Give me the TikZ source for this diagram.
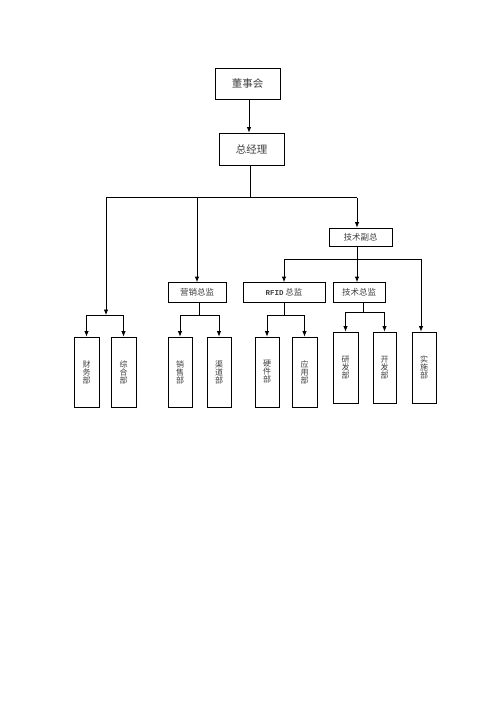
\documentclass[tikz,border=0pt]{standalone}
\usepackage{fontspec}
\setmainfont{Noto Sans CJK SC}
\newfontfamily\monofont{Liberation Mono}
\usetikzlibrary{arrows.meta}
\begin{document}
\begin{tikzpicture}[x=1pt,y=-1pt,
  box/.style={draw,line width=0.8pt,inner sep=0pt,text=black!75,font=\fontsize{8.5}{9}\selectfont},
  bigbox/.style={box,font=\fontsize{10.5}{11}\selectfont,minimum width=65pt,minimum height=31pt},
  midbox/.style={box,minimum height=20pt},
  dept/.style={box,minimum width=25pt,align=center,font=\fontsize{8}{8}\selectfont},
  ln/.style={line width=0.8pt},
  arr/.style={ln,-{Latex[length=5.5pt,width=4.5pt]}}]
\useasboundingbox (0,0) rectangle (496,702);
% top
\node[bigbox] (dsh) at (247.5,83.5) {董事会};
\node[bigbox,minimum height=32pt] (zjl) at (251.5,149) {总经理};
% second level
\node[midbox,minimum width=63pt,minimum height=18pt] (jsfz) at (360.5,237) {技术副总};
\node[midbox,minimum width=58pt] (yxzj) at (197,292.5) {营销总监};
\node[midbox,minimum width=82pt] (rfid) at (284,292.5) {{\monofont\bfseries\fontsize{7.5}{8}\selectfont RFID} 总监};
\node[midbox,minimum width=52pt] (jszj) at (359,292.5) {技术总监};
% departments
\node[dept,minimum height=70pt] (cw) at (86.5,372) {财\\务\\部};
\node[dept,minimum height=70pt] (zh) at (123.5,372) {综\\合\\部};
\node[dept,minimum height=70pt,minimum width=24pt] (xs) at (180,372) {销\\售\\部};
\node[dept,minimum height=70pt,minimum width=24pt] (qd) at (219,372) {渠\\道\\部};
\node[dept,minimum height=70pt,minimum width=24pt] (yj) at (267,372) {硬\\件\\部};
\node[dept,minimum height=70pt] (yy) at (304.5,372) {应\\用\\部};
\node[dept,minimum height=71pt] (yf) at (345.5,367.5) {研\\发\\部};
\node[dept,minimum height=71pt,minimum width=23pt] (kf) at (384.5,367.5) {开\\发\\部};
\node[dept,minimum height=71pt,minimum width=24pt] (ss) at (424,367.5) {实\\施\\部};
% bar coordinates
\coordinate (t0) at (250,197.5);
\coordinate (tl) at (106,197.5);
\coordinate (tm) at (197,197.5);
\coordinate (tr) at (357,197.5);
\coordinate (cl) at (106,315);
\coordinate (f0) at (357,259);
\coordinate (fr) at (421,259);
% connectors
\draw[arr] (dsh.south -| 249,0) -- (zjl.north -| 249,0);
\draw[ln] (zjl.south -| t0) -- (t0);
\draw[ln] (tl) -- (tr);
\draw[arr] (tl) -- (cl);
\draw[arr] (tm) -- (yxzj.north -| tm);
\draw[arr] (tr) -- (jsfz.north -| tr);
% finance / general
\draw[ln] (cl -| cw) -- (cl -| zh);
\draw[arr] (cl -| cw) -- (cw.north);
\draw[arr] (cl -| zh) -- (zh.north);
% marketing
\draw[ln] (199,303) -- (199,315);
\draw[ln] (xs.north |- 0,315) -- (qd.north |- 0,315);
\draw[arr] (xs.north |- 0,315) -- (xs.north);
\draw[arr] (qd.north |- 0,315) -- (qd.north);
% RFID
\draw[ln] (rfid.south) -- (284,315.5);
\draw[ln] (yj.north |- 0,315.5) -- (yy.north |- 0,315.5);
\draw[arr] (yj.north |- 0,315.5) -- (yj.north);
\draw[arr] (yy.north |- 0,315.5) -- (yy.north);
% tech director
\draw[ln] (363,303) -- (363,312);
\draw[ln] (yf.north |- 0,312) -- (kf.north |- 0,312);
\draw[arr] (yf.north |- 0,312) -- (yf.north);
\draw[arr] (kf.north |- 0,312) -- (kf.north);
% tech VP
\draw[ln] (jsfz.south -| f0) -- (f0);
\draw[ln] (rfid.north |- f0) -- (fr);
\draw[arr] (rfid.north |- f0) -- (rfid.north);
\draw[arr] (f0) -- (jszj.north -| f0);
\draw[arr] (fr) -- (ss.north -| fr);
\end{tikzpicture}
\end{document}
